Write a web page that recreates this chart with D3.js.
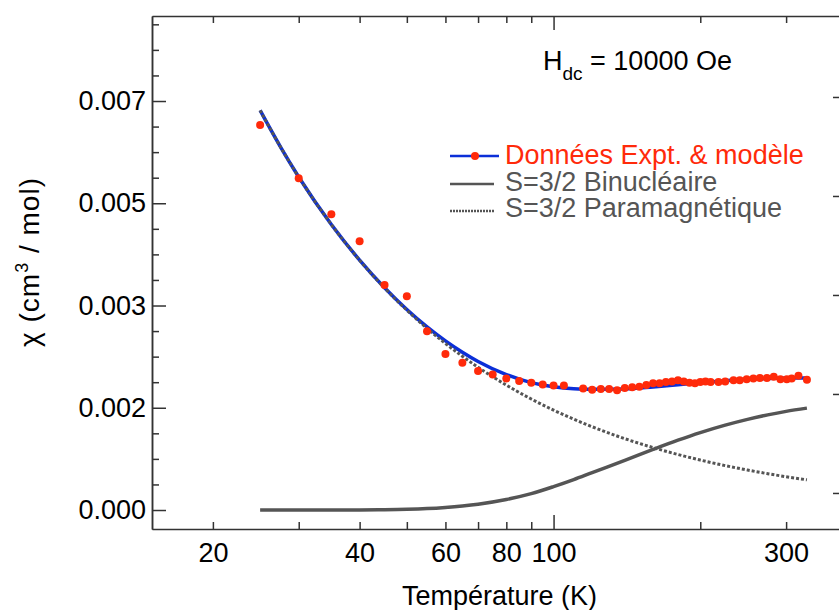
<!DOCTYPE html>
<html lang="fr">
<head>
<meta charset="UTF-8">
<title>Susceptibilité magnétique</title>
<script src="https://cdn.jsdelivr.net/npm/d3@7/dist/d3.min.js"></script>
<style>
    body{margin:0;background:#fff;}
    svg{display:block;font-family:"Liberation Sans",Arial,Helvetica,sans-serif;}
</style>
</head>
<body>
<svg width="839" height="610"></svg>
<script>
// points expérimentaux (T en K, chi en cm3/mol)
var dotT = [25,30,35,40,45,50,55,60,65,70,75,80,85,90,95,100,105,115,120,125,130,135,140,145,150,155,160,165,170,175,180,185,190,195,200,205,210,218,225,234,241,249,257,265,274,283,292,301,308,318,331];
var dotChi = [0.00659,0.00568,0.00506,0.00460,0.00385,0.00366,0.00306,0.00267,0.00252,0.00238,0.00232,0.00225,0.00221,0.00218,0.00215,0.00213,0.00213,0.00208,0.00206,0.00207,0.00207,0.00205,0.00209,0.00210,0.00211,0.00214,0.00217,0.00217,0.00219,0.00220,0.00222,0.00220,0.00218,0.00217,0.00219,0.00220,0.00219,0.00219,0.00220,0.00222,0.00222,0.00224,0.00225,0.00226,0.00226,0.00228,0.00224,0.00224,0.00225,0.00230,0.00223];

// courbes calculées
var curveT    = [25,27.5,30,35,40,45,50,55,60,65,70,80,90,100,110,120,140,160,180,200,225,250,275,300,331];
var modelChi  = [0.00684,0.00622,0.0057,0.004887,0.004277,0.003805,0.003432,0.003134,0.002895,0.002701,0.002543,0.002318,0.00218,0.00211,0.002075,0.002065,0.002071,0.002106,0.002145,0.00218,0.002213,0.002236,0.00225,0.002258,0.002261];
var binucChi  = [0,0,0,0.000001,0.000002,0.000005,0.000012,0.000025,0.000045,0.00007,0.0001,0.00018,0.00028,0.0004,0.00052,0.00064,0.00085,0.001037,0.001195,0.001325,0.001453,0.001552,0.001628,0.001688,0.001744];
var paraChi   = [0.00684,0.00622,0.0057,0.004886,0.004275,0.0038,0.00342,0.003109,0.00285,0.002631,0.002443,0.002138,0.0019,0.00171,0.001555,0.001425,0.001221,0.001069,0.00095,0.000855,0.00076,0.000684,0.000622,0.00057,0.000517];

// graduations
var xTicks = [20,30,40,50,60,70,80,90,100,200,300];
var xTickLabels = [20,40,60,80,100,300];
var yTickValues = [0,0.00175,0.0035,0.00525,0.007];
var yTickLabels = ["0.000","0.002","0.003","0.005","0.007"];
var rightTickValues = [0,0.1,0.2,0.3,0.4];

var svg = d3.select('svg');
var mLeft = 152, mRight = 847, mTop = 16, mBottom = 529;
var axisColor = '#333';
var fs = 27;

var x = d3.scaleLog().domain([15,400]).range([mLeft,mRight]);
var y = d3.scaleLinear().domain([-0.000325,0.008455]).range([mBottom,mTop]);
var y2 = d3.scaleLinear().domain([-0.0364,0.4818]).range([mBottom,mTop]);

function styleAxis(g){
    g.selectAll('path,line').attr('stroke',axisColor).attr('stroke-width',1.5);
    g.selectAll('text').attr('fill','#000').attr('font-size',fs).attr('font-family',null);
}

// axe gauche : graduations secondaires puis principales
var yMinor = d3.range(0,0.0084,0.0004375).filter(function(d,i){ return i%4 !== 0; });
svg.append('g').attr('transform','translate('+mLeft+',0)')
    .call(d3.axisLeft(y).tickValues(yMinor).tickSize(-7).tickSizeOuter(0).tickFormat(''))
    .call(styleAxis);
svg.append('g').attr('transform','translate('+mLeft+',0)')
    .call(d3.axisLeft(y).tickValues(yTickValues).tickSize(-14).tickSizeOuter(0).tickPadding(6)
        .tickFormat(function(d,i){ return yTickLabels[i]; }))
    .call(styleAxis);

// axe du bas (log)
var gx = svg.append('g').attr('transform','translate(0,'+mBottom+')')
    .call(d3.axisBottom(x).tickValues(xTicks).tickSize(-7).tickSizeOuter(0).tickPadding(14)
        .tickFormat(function(d){ return xTickLabels.indexOf(d) >= 0 ? d : ''; }))
    .call(styleAxis);
gx.selectAll('.tick').filter(function(d){ return d === 100; }).select('line').attr('y2',-14);

// axe du haut
var gt = svg.append('g').attr('transform','translate(0,'+mTop+')')
    .call(d3.axisTop(x).tickValues(xTicks).tickSize(-7).tickSizeOuter(0).tickFormat(''))
    .call(styleAxis);
gt.selectAll('.tick').filter(function(d){ return d === 100; }).select('line').attr('y2',14);

// axe de droite (hors cadre en partie)
svg.append('g').attr('transform','translate('+mRight+',0)')
    .call(d3.axisRight(y2).tickValues(rightTickValues).tickSize(-14).tickSizeOuter(0).tickFormat(''))
    .call(styleAxis);

// courbes
function pts(vals){
    return curveT.map(function(t,i){ return {t:t, v:vals[i]}; });
}
var line = d3.line()
    .x(function(d){ return x(d.t); })
    .y(function(d){ return y(d.v); })
    .curve(d3.curveMonotoneX);

svg.append('path').datum(pts(binucChi)).attr('d',line)
    .attr('fill','none').attr('stroke','#555').attr('stroke-width',3.5);
svg.append('path').datum(pts(modelChi)).attr('d',line)
    .attr('fill','none').attr('stroke','#0b2fd8').attr('stroke-width',3.5);
svg.append('path').datum(pts(paraChi)).attr('d',line)
    .attr('fill','none').attr('stroke','#555').attr('stroke-width',3)
    .attr('stroke-dasharray','3,2');

// points
svg.append('g').selectAll('circle')
    .data(dotT)
    .enter()
    .append('circle')
    .attr('cx',function(d){ return x(d); })
    .attr('cy',function(d,i){ return y(dotChi[i]); })
    .attr('r',4)
    .attr('fill','#ff2a0a');

// légende
var lg = svg.append('g');
lg.append('line').attr('x1',450).attr('x2',499).attr('y1',156).attr('y2',156)
    .attr('stroke','#0b2fd8').attr('stroke-width',2.5);
lg.append('circle').attr('cx',475).attr('cy',156).attr('r',4).attr('fill','#ff2a0a');
lg.append('line').attr('x1',450).attr('x2',494).attr('y1',184).attr('y2',184)
    .attr('stroke','#555').attr('stroke-width',2.5);
lg.append('line').attr('x1',450).attr('x2',494).attr('y1',211).attr('y2',211)
    .attr('stroke','#555').attr('stroke-width',2.5).attr('stroke-dasharray','2,1');
lg.append('text').attr('x',505).attr('y',164).attr('font-size',fs).attr('fill','#ff2a0a')
    .text('Données Expt. & modèle');
lg.append('text').attr('x',505).attr('y',191).attr('font-size',fs).attr('fill','#555')
    .text('S=3/2 Binucléaire');
lg.append('text').attr('x',505).attr('y',217).attr('font-size',fs).attr('fill','#555')
    .text('S=3/2 Paramagnétique');

// champ appliqué
var h = svg.append('text').attr('x',543).attr('y',70).attr('font-size',fs).attr('fill','#000');
h.append('tspan').text('H');
h.append('tspan').attr('font-size',19).attr('dy',10).text('dc');
h.append('tspan').attr('dy',-10).text(' = 10000 Oe');

// titres des axes
svg.append('text').attr('x',(mLeft+mRight)/2).attr('y',605).attr('text-anchor','middle')
    .attr('font-size',fs).attr('fill','#000').text('Température (K)');
var yt = svg.append('text').attr('transform','translate(39,262) rotate(-90)')
    .attr('text-anchor','middle').attr('font-size',28).attr('letter-spacing',1).attr('fill','#000');
yt.append('tspan').text('χ (cm');
yt.append('tspan').attr('font-size',18).attr('dy',-11).text('3');
yt.append('tspan').attr('dy',11).text(' / mol)');
</script>
</body>
</html>
